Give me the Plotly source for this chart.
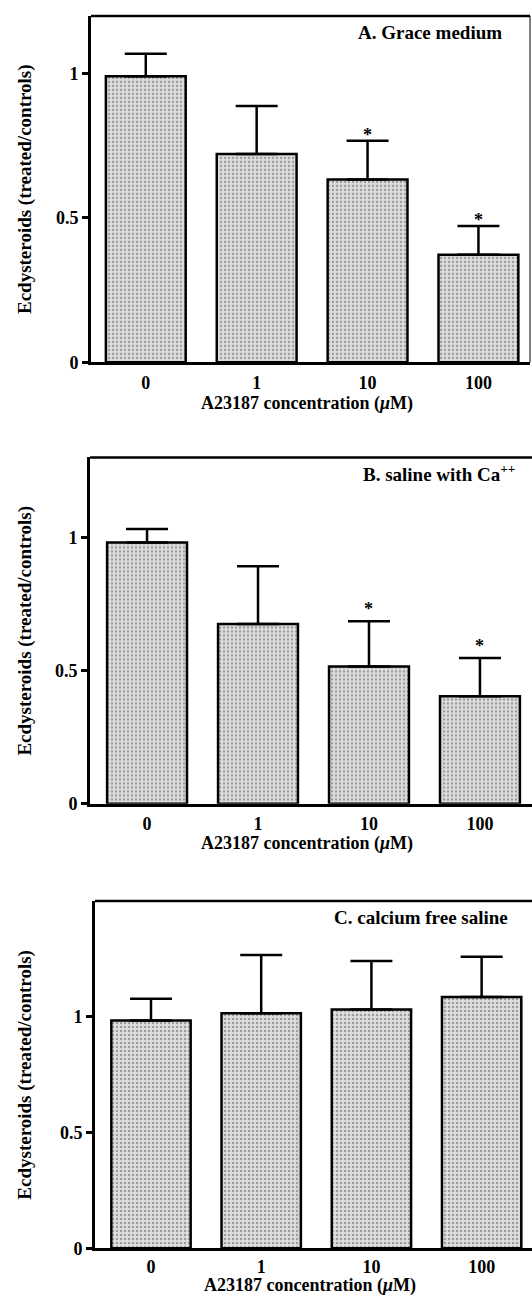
import plotly.graph_objects as go

conc = ["0", "1", "10", "100"]

grace_mean = [0.991, 0.721, 0.633, 0.372]
grace_err = [0.078, 0.167, 0.134, 0.100]
grace_star = [False, False, True, True]

saline_mean = [0.981, 0.675, 0.515, 0.404]
saline_err = [0.050, 0.217, 0.170, 0.143]
saline_star = [False, False, True, True]

cafree_mean = [0.984, 1.015, 1.032, 1.086]
cafree_err = [0.094, 0.252, 0.209, 0.173]
cafree_star = [False, False, False, False]

panel_titles = ["A. Grace medium", "B. saline with Ca<sup>++</sup>", "C. calcium free saline"]
y_title = "Ecdysteroids (treated/controls)"
x_title = "A23187 concentration (<i>μ</i>M)"
y_ticks = [0, 0.5, 1]
y_tick_text = ["0", "0.5", "1"]

W, H = 532, 1302
FONT = "Liberation Serif"

panels = [
    dict(mean=grace_mean, err=grace_err, star=grace_star, ymax=1.2,
         px=(91, 530), py=(16, 365), xr=(-0.494, 3.465), star_shift=6,
         title_xy=(504, 33), xt_y=407),
    dict(mean=saline_mean, err=saline_err, star=saline_star, ymax=1.3,
         px=(90, 532), py=(461, 810), xr=(-0.514, 3.469), star_shift=12,
         title_xy=(517, 477), xt_y=850),
    dict(mean=cafree_mean, err=cafree_err, star=cafree_star, ymax=1.5,
         px=(95, 532), py=(908, 1258), xr=(-0.508, 3.457), star_shift=6,
         title_xy=(510, 925), xt_y=1295),
]

fig = go.Figure()
annotations = []
shapes = []

for i, p in enumerate(panels):
    n = "" if i == 0 else str(i + 1)
    xa, ya = "x" + n, "y" + n
    fig.add_trace(go.Bar(
        x=conc, y=p["mean"], xaxis=xa, yaxis=ya, width=0.72,
        marker=dict(color="#d4d4d4", line=dict(color="black", width=2.5),
                    pattern=dict(shape=".", size=4, solidity=0.3,
                                 fgcolor="#5a5a5a", bgcolor="#dedede")),
        error_y=dict(type="data", array=p["err"], arrayminus=[0] * len(conc),
                     symmetric=False, thickness=2.5, width=21, color="black"),
        showlegend=False, hoverinfo="skip",
    ))
    x0, x1 = p["px"]
    yt, yb = p["py"]
    xdom = [x0 / W, min(1.0, x1 / W)]
    ydom = [1 - yb / H, 1 - yt / H]
    fig.layout["xaxis" + n] = dict(
        domain=xdom, type="category", range=list(p["xr"]), anchor=ya,
        showline=True, linecolor="black", linewidth=3, ticks="",
        showgrid=False, zeroline=False,
        tickfont=dict(family=FONT, size=18, color="black", weight="bold"),
        ticklabelstandoff=0 if i == 2 else 2,
    )
    fig.layout["yaxis" + n] = dict(
        domain=ydom, range=[0, p["ymax"]], anchor=xa,
        showline=True, linecolor="black", linewidth=3,
        ticks="outside", ticklen=6, tickwidth=2.5, tickcolor="black",
        tickvals=y_ticks, ticktext=y_tick_text,
        showgrid=False, zeroline=False,
        tickfont=dict(family=FONT, size=18, color="black", weight="bold"),
    )
    # top border
    shapes.append(dict(type="line", xref=xa + " domain", yref=ya + " domain",
                       x0=0, x1=1, y0=1, y1=1, line=dict(color="black", width=2.5)))
    if i == 0:
        shapes.append(dict(type="line", xref=xa + " domain", yref=ya + " domain",
                           x0=1, x1=1, y0=0, y1=1, line=dict(color="black", width=1)))
    # stars (category index positions)
    for k, (m, e, s) in enumerate(zip(p["mean"], p["err"], p["star"])):
        if s:
            annotations.append(dict(x=k, y=m + e, xref=xa, yref=ya, text="*",
                                    showarrow=False, yanchor="middle", yshift=p["star_shift"],
                                    font=dict(family=FONT, size=18, color="black", weight="bold")))
    # panel title
    tx, ty = p["title_xy"]
    annotations.append(dict(x=tx / W, y=1 - ty / H, xref="paper", yref="paper",
                            text=panel_titles[i], showarrow=False, xanchor="right", yanchor="middle",
                            font=dict(family=FONT, size=19, color="black", weight="bold")))
    # y title
    annotations.append(dict(x=25 / W, y=1 - (yt + yb) / 2 / H, xref="paper", yref="paper",
                            text=y_title, textangle=-90, showarrow=False,
                            xanchor="center", yanchor="middle",
                            font=dict(family=FONT, size=19, color="black", weight="bold")))
    # x title
    annotations.append(dict(x=((x0 + x1) / 2 - 4) / W, y=1 - p["xt_y"] / H, xref="paper", yref="paper",
                            text=x_title, showarrow=False, xanchor="center", yanchor="middle",
                            font=dict(family=FONT, size=18, color="black", weight="bold")))

fig.update_layout(
    width=W, height=H, margin=dict(l=0, r=0, t=0, b=0),
    paper_bgcolor="white", plot_bgcolor="white",
    annotations=annotations, shapes=shapes, bargap=0.28,
)

fig.write_html("out.html")
